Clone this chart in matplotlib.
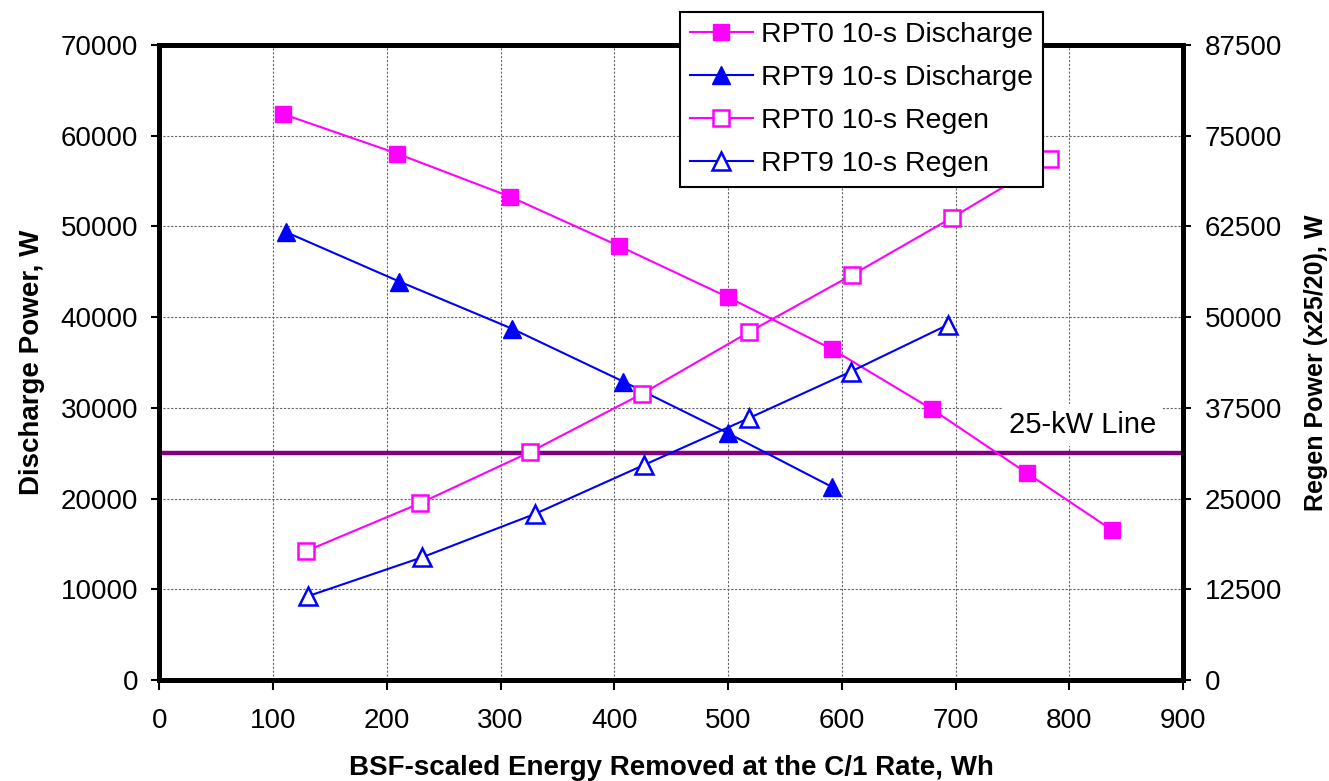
import matplotlib.pyplot as plt

plt.rcParams['font.family'] = ['Liberation Sans', 'DejaVu Sans']

# discharge power, W (left axis)
x_d0 = [109, 209, 308, 404, 500, 591, 679, 763, 838]
y_d0 = [62370, 58030, 53290, 47850, 42190, 36500, 29880, 22790, 16500]
x_d9 = [111, 211, 310, 408, 500, 591]
y_d9 = [49390, 43920, 38730, 32890, 27200, 21310]

# regen power x25/20, W (right axis)
x_r0 = [129, 229, 326, 424, 518, 609, 697, 783]
y_r0 = [17775, 24350, 31425, 39410, 47910, 55810, 63710, 71750]
x_r9 = [131, 231, 330, 426, 518, 608, 693]
y_r9 = [11575, 16910, 22875, 29625, 36060, 42500, 48925]

line_25kw = 25000

mag = '#FF00FF'
blu = '#0000FF'

fig = plt.figure(figsize=(13.29, 7.81), dpi=100)
ax = fig.add_axes([0.12, 0.1293, 0.7701, 0.8131])
ax2 = ax.twinx()

ax.axhline(line_25kw, color='#800080', lw=3.2, zorder=2)
ax.text(812, 28100, '25-kW Line', fontsize=21, ha='center', va='center',
        bbox=dict(facecolor='white', edgecolor='none', pad=5), zorder=3)

h1, = ax.plot(x_d0, y_d0, '-s', color=mag, lw=1.5, ms=12, mfc=mag, mec=mag,
              label='RPT0 10-s Discharge', zorder=4)
h2, = ax.plot(x_d9, y_d9, '-^', color=blu, lw=1.5, ms=13, mfc=blu, mec=blu,
              label='RPT9 10-s Discharge', zorder=4)
h3, = ax2.plot(x_r0, y_r0, '-s', color=mag, lw=1.5, ms=12, mfc='white', mec=mag,
               mew=1.8, label='RPT0 10-s Regen', zorder=4)
h4, = ax2.plot(x_r9, y_r9, '-^', color=blu, lw=1.5, ms=13, mfc='white', mec=blu,
               mew=1.8, label='RPT9 10-s Regen', zorder=4)

ax.set_xlim(0, 900)
ax.set_ylim(0, 70000)
ax2.set_ylim(0, 87500)
ax.set_xticks(range(0, 901, 100))
ax.set_yticks(range(0, 70001, 10000))
ax2.set_yticks(range(0, 87501, 12500))

ax.grid(True, color='#666666', ls=(0, (2, 1.5)), lw=0.8)
ax.set_axisbelow(True)

for a in (ax, ax2):
    for s in a.spines.values():
        s.set_linewidth(3.5)
    a.tick_params(labelsize=20, direction='out', length=5.5, width=1.5, pad=10)
ax.tick_params(axis='x', length=7, pad=13)

ax.set_xlabel('BSF-scaled Energy Removed at the C/1 Rate, Wh', fontsize=20,
              fontweight='bold', labelpad=15)
ax.set_ylabel('Discharge Power, W', fontsize=20, fontweight='bold', labelpad=11)
ax2.set_ylabel('Regen Power (x25/20), W', fontsize=18, fontweight='bold', labelpad=16)

leg = fig.legend(handles=[h1, h2, h3, h4], loc='upper left',
                 bbox_to_anchor=(680 / 1329, 1 - 12 / 781), fontsize=20.5,
                 frameon=True, fancybox=False, framealpha=1, edgecolor='black',
                 handlelength=2.2, labelspacing=0.6, borderpad=0.35,
                 handletextpad=0.3, borderaxespad=0)
leg.get_frame().set_linewidth(1.5)
leg.set_zorder(10)

fig.savefig('out.png', dpi=100)
